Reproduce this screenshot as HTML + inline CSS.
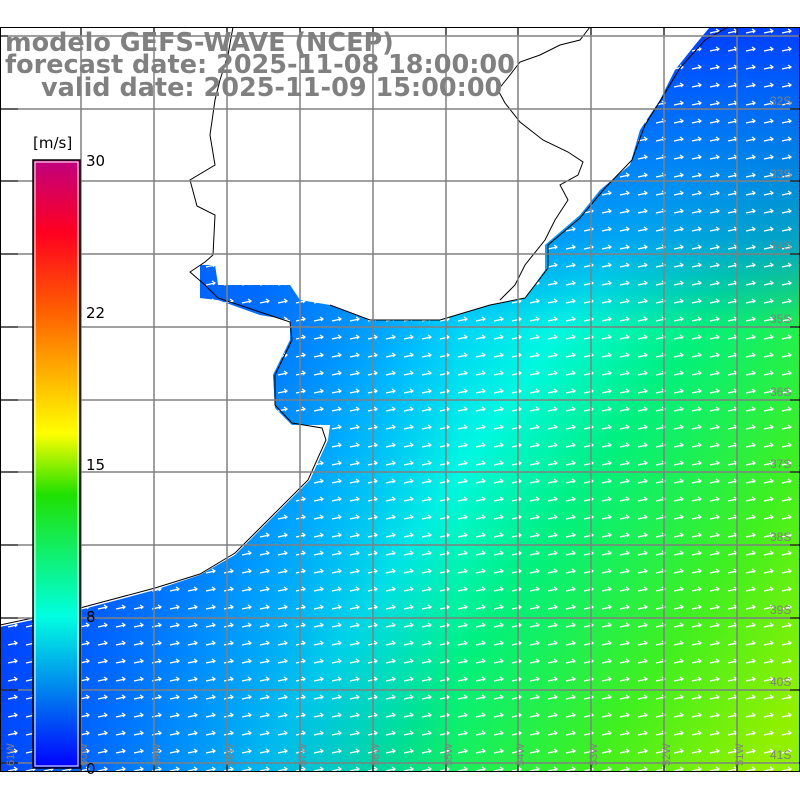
<!DOCTYPE html>
<html><head><meta charset="utf-8"><style>
body{margin:0;background:#fff;width:800px;height:800px;overflow:hidden;font-family:"Liberation Sans",sans-serif}
</style></head><body>
<svg width="800" height="800" viewBox="0 0 800 800" xmlns="http://www.w3.org/2000/svg">
<defs>
<linearGradient id="sea" gradientUnits="userSpaceOnUse" x1="240" y1="310" x2="800" y2="700">
<stop offset="0" stop-color="#0068ff"/>
<stop offset="0.24" stop-color="#00c8ff"/>
<stop offset="0.4" stop-color="#00f8e0"/>
<stop offset="0.56" stop-color="#00f080"/>
<stop offset="0.8" stop-color="#40f020"/>
<stop offset="1" stop-color="#90f000"/>
</linearGradient>
<linearGradient id="left" gradientUnits="userSpaceOnUse" x1="0" y1="0" x2="460" y2="0">
<stop offset="0" stop-color="#0040ff" stop-opacity="0.9"/>
<stop offset="0.6" stop-color="#0070ff" stop-opacity="0.45"/>
<stop offset="1" stop-color="#0070ff" stop-opacity="0"/>
</linearGradient>
<linearGradient id="top" gradientUnits="userSpaceOnUse" x1="0" y1="30" x2="0" y2="330">
<stop offset="0" stop-color="#0040ff" stop-opacity="1"/>
<stop offset="0.7" stop-color="#0070ff" stop-opacity="0.6"/>
<stop offset="1" stop-color="#0070ff" stop-opacity="0"/>
</linearGradient>
<linearGradient id="cb" x1="0" y1="0" x2="0" y2="1">
<stop offset="0" stop-color="#c0007f"/>
<stop offset="0.12" stop-color="#ff0020"/>
<stop offset="0.25" stop-color="#ff6000"/>
<stop offset="0.45" stop-color="#ffff00"/>
<stop offset="0.55" stop-color="#20e000"/>
<stop offset="0.75" stop-color="#00ffe0"/>
<stop offset="1" stop-color="#0000ff"/>
</linearGradient>
<pattern id="arr" width="18" height="18" patternUnits="userSpaceOnUse" x="4" y="4">
<path d="M4 11 L13 9 M10 7 L13 9 L11 11" stroke="#fff" stroke-width="1.2" fill="none"/>
</pattern>
<clipPath id="oc"><path d="M0 627 L80 610 L155 590 L200 575 L235 555 L270 520 L310 480 L328 440 L330 425 L292 425 L275 408 L273 375 L290 340 L290 320 L260 315 L218 300 L200 298 L200 265 L215 265 L218 285 L290 285 L300 300 L330 305 L370 320 L440 320 L490 305 L525 298 L545 270 L545 245 L580 215 L600 190 L630 165 L640 130 L660 100 L675 70 L695 45 L710 27 L800 27 L800 772 L0 772 Z"/></clipPath>
</defs>
<g clip-path="url(#oc)">
<rect x="0" y="27" width="800" height="745" fill="url(#sea)"/>
<rect x="0" y="27" width="460" height="745" fill="url(#left)"/>
<rect x="440" y="27" width="360" height="310" fill="url(#top)"/>
<rect x="0" y="27" width="800" height="745" fill="url(#arr)"/>
</g>
<path d="M0 625 L80 608 L155 588 L200 574 L235 553 L268 520 L308 480 L326 440 L322 428 L292 423 L275 405 L275 375 L292 340 L290 322 L260 312 L218 298 L205 285 L190 272 L205 262 L213 255 M330 305 L370 320 L440 320 L490 305 L525 298 L548 268 L548 245 L580 218 L605 188 L632 160 L645 125 L662 98 L680 68 L705 40 L728 27" stroke="#000" stroke-width="1" fill="none"/>
<path d="M213 255 L215 215 L197 206 L190 180 L215 165 L210 135 L215 100 L220 80 L228 55 L233 27 M500 300 L515 285 L525 265 L545 240 L555 220 L568 200 L560 185 L578 175 L583 162 L568 152 L543 140 L520 122 L505 103 L498 90 L510 75 L520 62 L540 55 L560 45 L580 40 L590 27" stroke="#000" stroke-width="1" fill="none"/>
<g stroke="#808080" stroke-width="1.5">
<line x1="81" y1="27" x2="81" y2="772"/><line x1="154" y1="27" x2="154" y2="772"/><line x1="227" y1="27" x2="227" y2="772"/><line x1="300" y1="27" x2="300" y2="772"/><line x1="373" y1="27" x2="373" y2="772"/><line x1="446" y1="27" x2="446" y2="772"/><line x1="518" y1="27" x2="518" y2="772"/><line x1="591" y1="27" x2="591" y2="772"/><line x1="664" y1="27" x2="664" y2="772"/><line x1="737" y1="27" x2="737" y2="772"/>
<line x1="0" y1="36" x2="800" y2="36"/><line x1="0" y1="109" x2="800" y2="109"/><line x1="0" y1="181" x2="800" y2="181"/><line x1="0" y1="254" x2="800" y2="254"/><line x1="0" y1="327" x2="800" y2="327"/><line x1="0" y1="400" x2="800" y2="400"/><line x1="0" y1="472" x2="800" y2="472"/><line x1="0" y1="545" x2="800" y2="545"/><line x1="0" y1="618" x2="800" y2="618"/><line x1="0" y1="690" x2="800" y2="690"/><line x1="0" y1="763" x2="800" y2="763"/>
</g>
<rect x="0.5" y="27.5" width="799" height="744" fill="none" stroke="#000" stroke-width="1"/>
<g stroke="#000" stroke-width="1">
<path d="M0 36h8M0 109h18M0 181h18M0 254h18M0 327h18M0 400h18M0 472h18M0 545h18M0 618h18M0 690h18M0 763h18"/>
<path d="M800 109h-10M800 181h-10M800 254h-10M800 327h-10M800 400h-10M800 472h-10M800 545h-10M800 618h-10M800 690h-10"/>
<path d="M81 772v-8M154 772v-8M227 772v-8M300 772v-8M373 772v-8M446 772v-8M518 772v-8M591 772v-8M664 772v-8M737 772v-8"/>
<path d="M81 27v8M154 27v8M227 27v8M300 27v8M373 27v8M446 27v8M518 27v8M591 27v8M664 27v8M737 27v8"/>
</g>
<g fill="#808080" font-size="12">
<text x="770" y="105">32S</text><text x="770" y="178">33S</text><text x="770" y="250">34S</text><text x="770" y="323">35S</text><text x="770" y="396">36S</text><text x="770" y="468">37S</text><text x="770" y="541">38S</text><text x="770" y="614">39S</text><text x="770" y="686">40S</text><text x="770" y="759">41S</text>
</g>
<g fill="#808080" font-size="11">
<text transform="translate(14,766) rotate(-90)">61W</text><text transform="translate(87,766) rotate(-90)">60W</text><text transform="translate(160,766) rotate(-90)">59W</text><text transform="translate(233,766) rotate(-90)">58W</text><text transform="translate(306,766) rotate(-90)">57W</text><text transform="translate(379,766) rotate(-90)">56W</text><text transform="translate(452,766) rotate(-90)">55W</text><text transform="translate(524,766) rotate(-90)">54W</text><text transform="translate(597,766) rotate(-90)">53W</text><text transform="translate(670,766) rotate(-90)">52W</text><text transform="translate(743,766) rotate(-90)">51W</text>
</g>
<rect x="33" y="160" width="47" height="608" fill="url(#cb)" stroke="#000" stroke-width="1.5"/>
<rect x="35" y="162" width="43" height="604" fill="none" stroke="#fff" stroke-width="1"/>
<g font-size="15" fill="#000" font-family="DejaVu Sans,sans-serif">
<text x="33" y="148">[m/s]</text>
<text x="86" y="166">30</text><text x="86" y="318">22</text><text x="86" y="470">15</text><text x="86" y="622">8</text><text x="86" y="774">0</text>
</g>
<g fill="#808080" font-weight="bold" font-size="25.5" font-family="DejaVu Sans,sans-serif">
<text x="5" y="51">modelo GEFS-WAVE (NCEP)</text>
<text x="5" y="73">forecast date: 2025-11-08 18:00:00</text>
<text x="41" y="96">valid date: 2025-11-09 15:00:00</text>
</g>
</svg>
</body></html>
